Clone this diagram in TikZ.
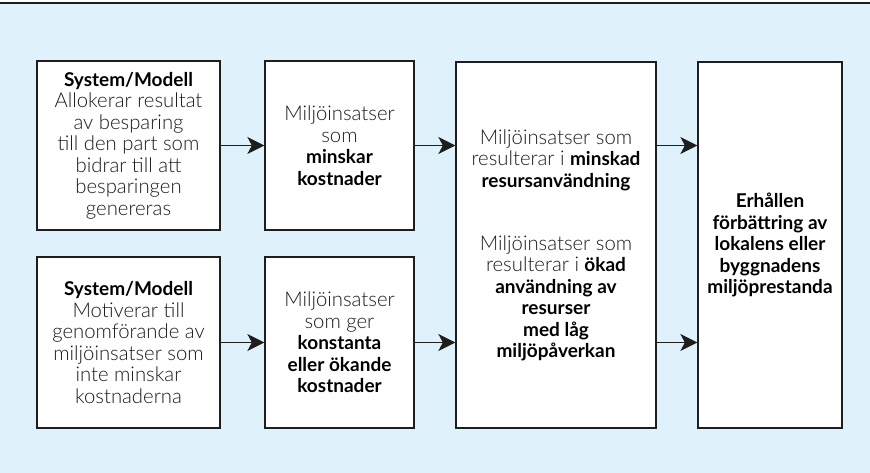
\documentclass[tikz,border=0pt]{standalone}
\usepackage{fontspec}
\setmainfont{Lato}[UprightFont=* Light, BoldFont=* Bold]
\usetikzlibrary{arrows.meta}
\definecolor{panelblue}{HTML}{DFF1FB}
\definecolor{textgray}{HTML}{1A1A1A}
\definecolor{linegray}{HTML}{1E1E1E}
\tikzset{
  box/.style={draw=linegray, line width=1.3pt, fill=white, inner sep=0pt,
    align=center, font=\fontsize{20.3}{21.5}\selectfont, text=textgray},
  txt/.style={align=center, inner sep=0pt, font=\fontsize{20.3}{21.5}\selectfont, text=textgray},
  flow/.style={draw=linegray, line width=1.3pt, -{Stealth[length=17pt,width=17pt,inset=4.5pt]}}
}
\newcommand{\hl}[1]{{\fontsize{19}{21.5}\selectfont\bfseries\color{black}#1}}
\begin{document}
\begin{tikzpicture}[x=1pt,y=-1pt]
    \useasboundingbox (0,0) rectangle (870,473);
    \fill[panelblue] (0,3.5) rectangle (870,473);
    \draw[linegray, line width=1.5pt] (0,3) -- (870,3);

    \node[box, minimum width=183pt, minimum height=169pt] (alloc) at (128.5,145.5)
      {\hl{System/Modell}\\Allokerar resultat\\av besparing\\till den part som\\bidrar till att\\besparingen\\genereras};
    \node[box, minimum width=149pt, minimum height=169pt] (minska) at (339.5,145.5)
      {Miljöinsatser\\som\\\hl{minskar}\\\hl{kostnader}};
    \node[box, minimum width=183pt, minimum height=171pt] (motiv) at (128.5,342.5)
      {\hl{System/Modell}\\Motiverar till\\genomförande av\\miljöinsatser som\\inte minskar\\kostnaderna};
    \node[box, minimum width=149pt, minimum height=171pt] (okande) at (339.5,342.5)
      {Miljöinsatser\\som ger\\\hl{konstanta}\\\hl{eller ökande}\\\hl{kostnader}};
    \node[box, minimum width=200pt, minimum height=366pt] (resurs) at (556,245) {};
    \node[box, minimum width=144pt, minimum height=366pt] (prest) at (770,245)
      {\hl{Erhållen}\\\hl{förbättring av}\\\hl{lokalens eller}\\\hl{byggnadens}\\\hl{miljöprestanda}};

    \node[txt] (resurs-a) at (556,160)
      {Miljöinsatser som\\resulterar i \hl{minskad}\\\hl{resursanvändning}};
    \node[txt] (resurs-b) at (556,298.5)
      {Miljöinsatser som\\resulterar i \hl{ökad}\\\hl{användning av}\\\hl{resurser}\\\hl{med låg}\\\hl{miljöpåverkan}};

    \draw[flow] (alloc.east) -- (minska.west);
    \draw[flow] (motiv.east) -- (okande.west);
    \draw[flow] (minska.east) -- (minska.east -| resurs.west);
    \draw[flow] (okande.east) -- (okande.east -| resurs.west);
    \draw[flow] (resurs.east |- minska.east) -- (prest.west |- minska.east);
    \draw[flow] (resurs.east |- okande.east) -- (prest.west |- okande.east);
\end{tikzpicture}
\end{document}
